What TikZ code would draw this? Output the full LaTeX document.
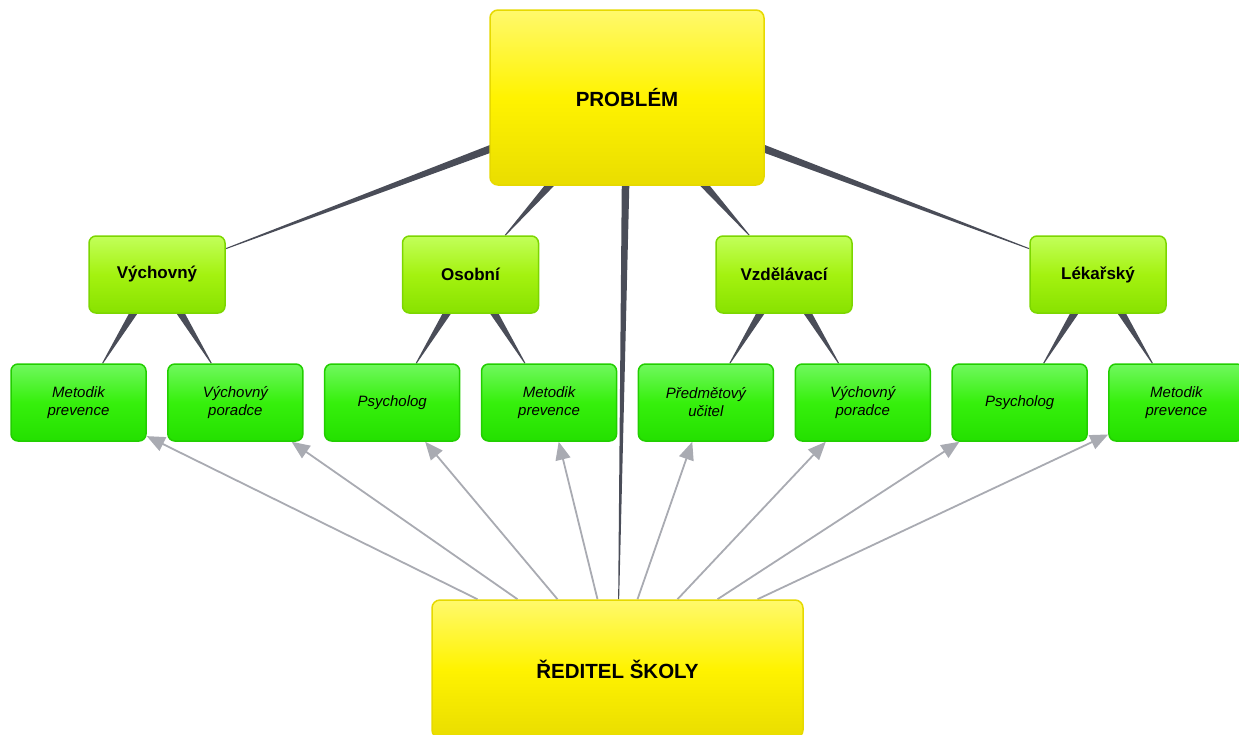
\documentclass[tikz,border=0pt]{standalone}
\usepackage{fontspec}
\setmainfont{Liberation Sans}
\usetikzlibrary{calc,arrows.meta}

\pgfdeclarelayer{background}
\pgfsetlayers{background,main}

\definecolor{yelTop}{HTML}{FFF96C}
\definecolor{yelMid}{HTML}{FFF300}
\definecolor{yelBot}{HTML}{E9DD00}
\definecolor{yelLine}{HTML}{E6D900}
\definecolor{catTop}{HTML}{C2FF5A}
\definecolor{catMid}{HTML}{A4F210}
\definecolor{catBot}{HTML}{88E200}
\definecolor{catLine}{HTML}{7CD600}
\definecolor{leafTop}{HTML}{70F85E}
\definecolor{leafMid}{HTML}{36F00C}
\definecolor{leafBot}{HTML}{24E000}
\definecolor{leafLine}{HTML}{22CE00}
\definecolor{wedgegray}{HTML}{4A4D58}
\definecolor{arrgray}{HTML}{A9ABB2}

\tikzset{
  mainbox/.style={draw=yelLine, line width=1.5pt, rounded corners=8pt,
    top color=yelTop, bottom color=yelBot, middle color=yelMid,
    font=\bfseries\fontsize{20.5}{24}\selectfont},
  catbox/.style={draw=catLine, line width=1.5pt, rounded corners=7pt,
    top color=catTop, bottom color=catBot, middle color=catMid,
    minimum width=136pt, minimum height=77pt,
    font=\bfseries\fontsize{17}{20}\selectfont},
  leafbox/.style={draw=leafLine, line width=1.5pt, rounded corners=7pt,
    top color=leafTop, bottom color=leafBot, middle color=leafMid,
    minimum width=135pt, minimum height=77pt, align=center,
    font=\itshape\fontsize{15}{18}\selectfont},
  arr/.style={draw=arrgray, line width=1.8pt, -{Triangle[length=18pt,width=15pt]}}
}

% tapered connector, wide at the first node, thin at the second
\newcommand\taper[2]{%
  \path (#1) -- (#2) coordinate[pos=0] (t-s) coordinate[pos=1] (t-e);
  \coordinate (t-b) at ($(t-s)!-4pt!(t-e)$);
  \fill[wedgegray] ($(t-b)!3.8pt!90:(t-e)$) -- ($(t-e)!0.5pt!-90:(t-b)$)
    -- ($(t-e)!0.5pt!90:(t-b)$) -- ($(t-b)!3.8pt!-90:(t-e)$) -- cycle;}

\begin{document}
\begin{tikzpicture}[x=1pt,y=-1pt]
\useasboundingbox (0,0) rectangle (1239,734);

\node[mainbox, minimum width=274pt, minimum height=175pt] (problem) at (627,97.5) {PROBLÉM};
\node[mainbox, minimum width=371pt, minimum height=138pt] (reditel) at (617.5,669) {ŘEDITEL ŠKOLY};

\foreach \name/\x/\txt in {vychovny/157/Výchovný, osobni/470.5/Osobní,
    vzdelavaci/784/Vzdělávací, lekarsky/1098/Lékařský}
  \node[catbox] (\name) at (\x,274.5) {\txt};

\foreach \i/\txt in {1/{Metodik\\prevence}, 2/{Výchovný\\poradce}, 3/Psycholog,
    4/{Metodik\\prevence}, 5/{Předmětový\\učitel}, 6/{Výchovný\\poradce},
    7/Psycholog, 8/{Metodik\\prevence}}
  \node[leafbox] (l\i) at ({78.5+(\i-1)*156.85},402.5) {\txt};

\begin{pgfonlayer}{background}
  \taper{problem}{vychovny}
  \taper{problem}{osobni}
  \taper{problem}{vzdelavaci}
  \taper{problem}{lekarsky}
  \taper{problem}{reditel}
  \taper{vychovny}{l1} \taper{vychovny}{l2}
  \taper{osobni}{l3} \taper{osobni}{l4}
  \taper{vzdelavaci}{l5} \taper{vzdelavaci}{l6}
  \taper{lekarsky}{l7} \taper{lekarsky}{l8}

  \foreach \i/\dx in {1/-140,2/-100,3/-60,4/-20,5/20,6/60,7/100,8/140}
    \draw[arr] ([xshift=\dx pt]reditel.north) -- (l\i);
\end{pgfonlayer}
\end{tikzpicture}
\end{document}
